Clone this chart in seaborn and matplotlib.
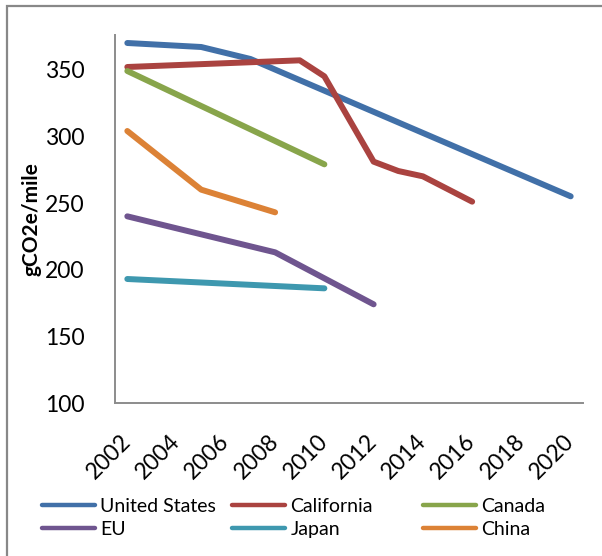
import matplotlib
matplotlib.use("Agg")
import matplotlib.pyplot as plt
from matplotlib.lines import Line2D
from matplotlib.patches import Rectangle
import matplotlib.transforms as mtransforms
import pandas as pd
import seaborn as sns

# Fleet-average vehicle emission standards (gCO2e per mile)
us_years = [2002, 2005, 2007, 2020]
us_values = [370, 367, 358, 255]

california_years = [2002, 2009, 2010, 2012, 2013, 2014, 2016]
california_values = [352, 357, 345, 281, 274, 270, 251]

canada_years = [2002, 2010]
canada_values = [349, 279]

eu_years = [2002, 2008, 2012]
eu_values = [240, 213, 174]

japan_years = [2002, 2010]
japan_values = [193, 186]

china_years = [2002, 2005, 2008]
china_values = [304, 260, 243]

regions = ["United States", "California", "Canada", "EU", "Japan", "China"]
colors = ["#4170A8", "#AA4340", "#88A54B", "#6F558F", "#3E98AF", "#DC8236"]
x_ticks = [2002, 2004, 2006, 2008, 2010, 2012, 2014, 2016, 2018, 2020]
y_ticks = [100, 150, 200, 250, 300, 350]

series = {
    "United States": (us_years, us_values),
    "California": (california_years, california_values),
    "Canada": (canada_years, canada_values),
    "EU": (eu_years, eu_values),
    "Japan": (japan_years, japan_values),
    "China": (china_years, china_values),
}
rows = []
for name, (yrs, vals) in series.items():
    for yr, v in zip(yrs, vals):
        rows.append({"region": name, "year": yr, "value": v})
df = pd.DataFrame(rows)

sns.set_theme(style="white")
plt.rcParams["font.family"] = ["Lato", "DejaVu Sans"]

W, H = 602, 556
fig = plt.figure(figsize=(W / 100, H / 100), dpi=100)
ax = fig.add_axes([115 / W, 1 - 403 / H, (583 - 115) / W, (403 - 35) / H])

palette = dict(zip(regions, colors))
sns.lineplot(data=df, x="year", y="value", hue="region", hue_order=regions,
             palette=palette, estimator=None, sort=False, units="region",
             linewidth=4.3, legend=False, ax=ax,
             solid_capstyle="round", solid_joinstyle="round")

ax.set_xlim(2001.5, 2020.5)
ax.set_ylim(100, 376)
ax.set_xticks(x_ticks)
ax.set_yticks(y_ticks)
ax.set_yticklabels([str(t) for t in y_ticks], fontsize=16.5, color="black")
ax.set_xticklabels([str(t) for t in x_ticks], fontsize=16.5, color="black",
                   rotation=45, ha="right", va="center", rotation_mode="anchor")
shift = mtransforms.ScaledTranslation(20 / 100, 0, fig.dpi_scale_trans)
for lbl in ax.get_xticklabels():
    lbl.set_transform(lbl.get_transform() + shift)
ax.tick_params(axis="both", length=0)
ax.tick_params(axis="y", pad=22)
ax.tick_params(axis="x", pad=25)

for side in ["top", "right"]:
    ax.spines[side].set_visible(False)
for side in ["left", "bottom"]:
    ax.spines[side].set_color("#8C8C8C")
    ax.spines[side].set_linewidth(1.4)

ax.set_xlabel("")
ax.set_ylabel("gCO2e/mile", fontsize=15, fontweight="bold", color="black")
ax.yaxis.set_label_coords((42 - 115) / 468, 0.5)

# legend laid out as three fixed columns
handles = {name: Line2D([0], [0], color=c, lw=3.2) for name, c in zip(regions, colors)}
columns = [(["United States", "EU"], 42), (["California", "Japan"], 232), (["Canada", "China"], 423)]
for names, x0 in columns:
    leg = fig.legend([handles[n] for n in names], names, loc="upper left",
                     bbox_to_anchor=(x0 / W, 1 - 498 / H), frameon=False,
                     fontsize=14, handlelength=2.75, handletextpad=0.25,
                     labelspacing=0.3, borderaxespad=0, borderpad=0)
    for t in leg.get_texts():
        t.set_color("black")

# outer chart border
fig.patches.append(Rectangle((7 / W, -0.1), 1.2, 1 - 6 / H + 0.1,
                             transform=fig.transFigure, fill=False,
                             edgecolor="#888888", linewidth=1.6, clip_on=False))

fig.savefig("out.png", dpi=100)
